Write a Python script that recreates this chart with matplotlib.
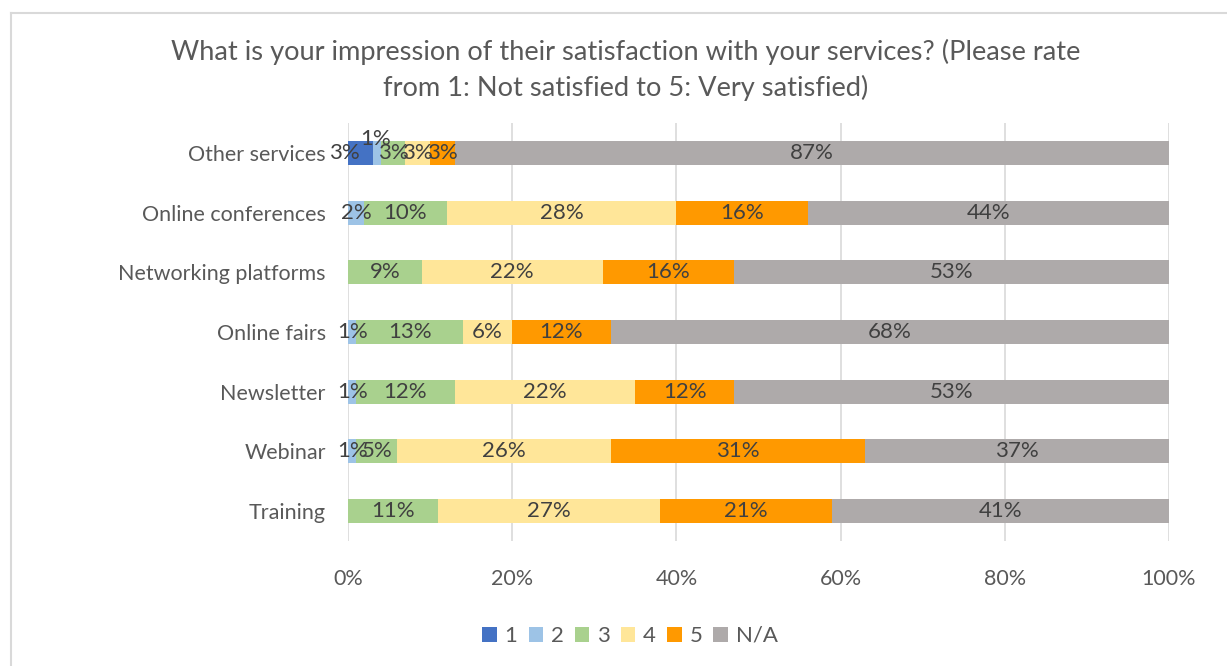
import matplotlib
matplotlib.use("Agg")
import matplotlib.pyplot as plt
from matplotlib.lines import Line2D
from matplotlib.patches import Patch

categories = ["Other services", "Online conferences", "Networking platforms",
              "Online fairs", "Newsletter", "Webinar", "Training"]
series_names = ["1", "2", "3", "4", "5", "N/A"]
r1 = [3, 0, 0, 0, 0, 0, 0]
r2 = [1, 2, 0, 1, 1, 1, 0]
r3 = [3, 10, 9, 13, 12, 5, 11]
r4 = [3, 28, 22, 6, 22, 26, 27]
r5 = [3, 16, 16, 12, 12, 31, 21]
rna = [87, 44, 53, 68, 53, 37, 41]
tick_values = [0, 20, 40, 60, 80, 100]

colors = ["#4472C4", "#9DC3E6", "#A9D18E", "#FFE699", "#FF9900", "#AEAAAA"]
text_color = "#595959"
FONT = ["Lato", "DejaVu Sans"]
plt.rcParams["font.family"] = FONT

W, H = 1227, 666
fig = plt.figure(figsize=(W / 100, H / 100), dpi=100)
fig.patch.set_facecolor("white")

# chart frame (top and left edges)
fig.add_artist(Line2D([11 / W, 11 / W], [0, 1 - 13 / H], transform=fig.transFigure,
                      color="#D9D9D9", lw=1.5))
fig.add_artist(Line2D([11 / W, 1], [1 - 13 / H, 1 - 13 / H], transform=fig.transFigure,
                      color="#D9D9D9", lw=1.5))

ax = fig.add_axes([348 / W, 1 - 541 / H, (1169 - 348) / W, (541 - 123) / H])
ax.set_xlim(0, 100)
ax.set_ylim(len(categories) - 0.5, -0.5)

series = [r1, r2, r3, r4, r5, rna]
ypos = list(range(len(categories)))
left = [0] * len(categories)
# small nudges for crowded labels (series index, row index) -> (dx in %, dy in rows)
nudges = {(0, 0): (-2.0, 0.0), (1, 0): (-0.1, -0.23)}
for si, vals in enumerate(series):
    ax.barh(ypos, vals, left=left, height=0.4, color=colors[si], zorder=3)
    for ri, v in enumerate(vals):
        if v > 0:
            dx, dy = nudges.get((si, ri), (0, 0))
            ax.text(left[ri] + v / 2 + dx, ri + dy, f"{v}%", ha="center", va="center",
                    fontsize=16, color="#404040", zorder=4)
    left = [a + b for a, b in zip(left, vals)]

ax.set_xticks(tick_values)
ax.set_xticklabels([f"{t}%" for t in tick_values])
ax.set_yticks(ypos)
ax.set_yticklabels(categories)
ax.tick_params(axis="both", length=0, labelsize=15.5, colors=text_color)
ax.tick_params(axis="x", pad=20)
ax.tick_params(axis="y", pad=16)
ax.grid(axis="x", color="#D9D9D9", lw=1.2, zorder=0)
for s in ax.spines.values():
    s.set_visible(False)

fig.text(626 / W, 1 - 52 / H, "What is your impression of their satisfaction with your services? (Please rate",
         ha="center", va="center", fontsize=19.6, color=text_color)
fig.text(626 / W, 1 - 88 / H, "from 1: Not satisfied to 5: Very satisfied)",
         ha="center", va="center", fontsize=19.6, color=text_color)

handles = [Patch(facecolor=c, edgecolor="none") for c in colors]
fig.legend(handles, series_names, loc="center", bbox_to_anchor=(630 / W, 1 - 636 / H),
           ncol=6, frameon=False, fontsize=16, labelcolor=text_color,
           handlelength=0.65, handleheight=0.65, handletextpad=0.35, columnspacing=0.5)

fig.savefig("out.png", dpi=100, facecolor="white")
